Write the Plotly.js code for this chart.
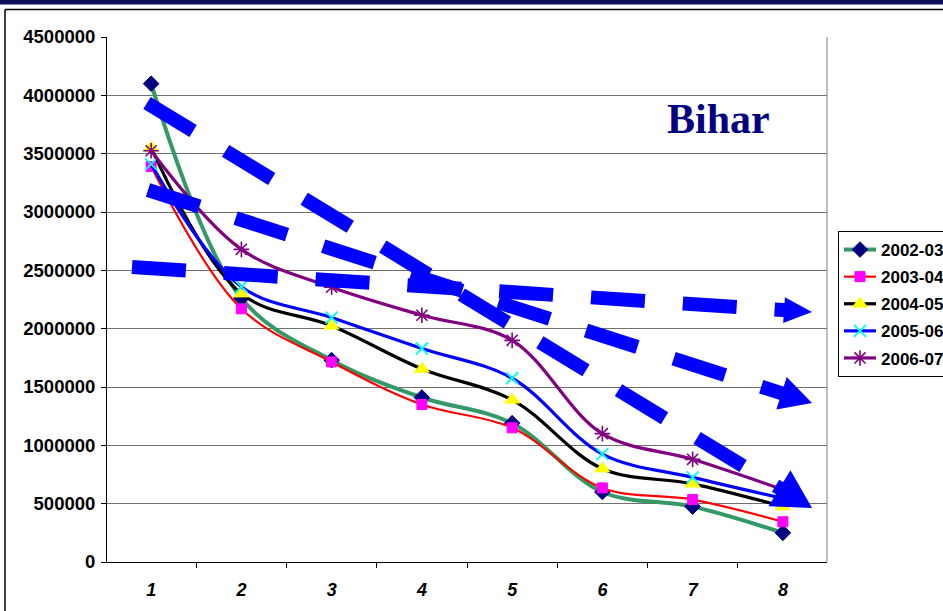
<!DOCTYPE html>
<html>
<head>
<meta charset="utf-8">
<script src="https://cdn.plot.ly/plotly-3.0.1.min.js"></script>
<style>html,body{margin:0;padding:0;background:#fff;}#chart{width:943px;height:611px;}</style>
</head>
<body>
<div id="chart"></div>
<script>
// ---- data ----
const categories = ['1','2','3','4','5','6','7','8'];
const seriesNames = ['2002-03','2003-04','2004-05','2005-06','2006-07'];
const s2002_03 = [4100000, 2260000, 1730000, 1410000, 1190000, 600000, 475000, 250000];
const s2003_04 = [3390000, 2170000, 1715000, 1350000, 1150000, 635000, 535000, 345000];
const s2004_05 = [3550000, 2300000, 2025000, 1655000, 1390000, 800000, 670000, 475000];
const s2005_06 = [3410000, 2360000, 2095000, 1830000, 1575000, 925000, 725000, 545000];
const s2006_07 = [3525000, 2680000, 2355000, 2115000, 1900000, 1100000, 880000, 620000];
const yTickVals = [0,500000,1000000,1500000,2000000,2500000,3000000,3500000,4000000,4500000];
const yTickText = ['0','500000','1000000','1500000','2000000','2500000','3000000','3500000','4000000','4500000'];

// ---- styles ----
const W = 943, H = 611;
const M = {l:107, r:116, t:37, b:49};
const PW = W - M.l - M.r, PH = H - M.t - M.b;
function px2paper(px, py){ return [(px - M.l)/PW, (H - M.b - py)/PH]; }

const styles = [
  {line:{color:'#339966', width:4}, marker:{symbol:'diamond', size:12, color:'#000080', line:{color:'#000080', width:1}}},
  {line:{color:'#FF0000', width:2.2}, marker:{symbol:'square', size:10, color:'#FF00FF', line:{color:'#FF00FF', width:1}}},
  {line:{color:'#000000', width:3.2}, marker:{symbol:'triangle-up', size:13, color:'#FFFF00', line:{color:'#FFFF00', width:1}}},
  {line:{color:'#0000FF', width:3.2}, marker:{symbol:'x-thin-open', size:12, color:'#00FFFF', line:{color:'#00FFFF', width:1.8}}},
  {line:{color:'#800080', width:3.2}, marker:{symbol:'asterisk-open', size:13, color:'#800080', line:{color:'#800080', width:1.6}}}
];
const allSeries = [s2002_03, s2003_04, s2004_05, s2005_06, s2006_07];

const traces = allSeries.map((vals, i) => ({
  type:'scatter', mode:'lines+markers', name: seriesNames[i],
  x: categories, y: vals, legendgroup: 'g'+i,
  line: Object.assign({shape:'spline', smoothing:1}, styles[i].line),
  marker: styles[i].marker, hoverinfo:'skip'
}));

// ---- decorative arrows (pixel geometry) ----
const arrows = [
  {x0:147, y0:103, x1:812, y1:508, head:38, half:21},
  {x0:148, y0:190, x1:812, y1:403, head:32, half:17},
  {x0:132, y0:267, x1:812, y1:312, head:28, half:13}
];
const shapes = [];
let a = px2paper(0, 0), b = px2paper(W, 4.5);
shapes.push({type:'rect', xref:'paper', yref:'paper', x0:a[0], y0:b[1], x1:b[0], y1:a[1], fillcolor:'#0d0d5c', line:{width:0}, layer:'below'});
a = px2paper(5, 9.5); b = px2paper(W, 9.5);
shapes.push({type:'line', xref:'paper', yref:'paper', x0:a[0], y0:a[1], x1:b[0], y1:b[1], line:{color:'#000', width:1.5}});
b = px2paper(5, H);
shapes.push({type:'line', xref:'paper', yref:'paper', x0:a[0], y0:a[1], x1:b[0], y1:b[1], line:{color:'#000', width:1.5}});
shapes.push({type:'line', xref:'paper', yref:'paper', x0:1, y0:0, x1:1, y1:1, line:{color:'#808080', width:1}});

arrows.forEach(ar => {
  const dx = ar.x1 - ar.x0, dy = ar.y1 - ar.y0, L = Math.hypot(dx, dy);
  const ux = dx/L, uy = dy/L, nx = -uy, ny = ux;
  const bx = ar.x1 - ux*ar.head, by = ar.y1 - uy*ar.head;
  const p0 = px2paper(ar.x0, ar.y0), p1 = px2paper(bx + ux*2, by + uy*2);
  shapes.push({type:'line', xref:'paper', yref:'paper', x0:p0[0], y0:p0[1], x1:p1[0], y1:p1[1],
    line:{color:'#0000FF', width:14, dash:'54px,38px'}});
  const t = px2paper(ar.x1, ar.y1);
  const c1 = px2paper(bx + nx*ar.half, by + ny*ar.half);
  const c2 = px2paper(bx - nx*ar.half, by - ny*ar.half);
  shapes.push({type:'path', xref:'paper', yref:'paper',
    path:`M ${t[0]} ${t[1]} L ${c1[0]} ${c1[1]} L ${c2[0]} ${c2[1]} Z`,
    fillcolor:'#0000FF', line:{width:0}});
});

const bihar = px2paper(718, 119);
const legPos = px2paper(838, 231);

const layout = {
  width: W, height: H,
  margin: {l:M.l, r:M.r, t:M.t, b:M.b, pad:0, autoexpand:false},
  paper_bgcolor:'#ffffff', plot_bgcolor:'#ffffff',
  showlegend: true,
  legend: {x: legPos[0], y: legPos[1], xanchor:'left', yanchor:'top',
    bgcolor:'#ffffff', bordercolor:'#000000', borderwidth:1, tracegroupgap:2, itemwidth:32,
    font:{family:'Liberation Sans, Arial, sans-serif', size:17, color:'#000', weight:'bold'}},
  xaxis: {type:'category', categoryorder:'array', categoryarray:categories,
    showgrid:false, zeroline:false, showline:true, linecolor:'#000', linewidth:1,
    ticks:'outside', ticklen:5, tickcolor:'#000', tickson:'boundaries',
    ticklabelstandoff:11,
    tickfont:{family:'Liberation Sans, Arial, sans-serif', size:18, color:'#000', weight:'bold', style:'italic'}},
  yaxis: {range:[0,4500000], tickvals:yTickVals, ticktext:yTickText,
    showgrid:true, gridcolor:'#707070', gridwidth:1, zeroline:false,
    showline:true, linecolor:'#000', linewidth:1, ticks:'outside', ticklen:5, tickcolor:'#000',
    ticklabelstandoff:2,
    tickfont:{family:'Liberation Sans, Arial, sans-serif', size:18.5, color:'#000', weight:'bold'}},
  shapes: shapes,
  annotations: [{xref:'paper', yref:'paper', x:bihar[0], y:bihar[1], xanchor:'center', yanchor:'middle',
    text:'Bihar', showarrow:false,
    font:{family:'Liberation Serif, Times New Roman, serif', size:42, color:'#000080', weight:'bold'}}]
};

Plotly.newPlot('chart', traces, layout, {displayModeBar:false, staticPlot:true});
</script>
</body>
</html>
